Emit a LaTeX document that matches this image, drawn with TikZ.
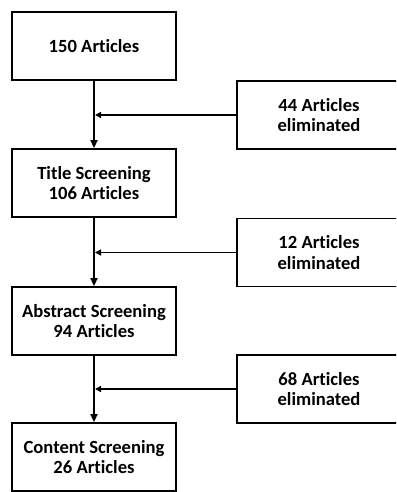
\documentclass[tikz,border=0pt]{standalone}
\usepackage{fontspec}
\setmainfont{Carlito}[Ligatures=NoCommon]
\usetikzlibrary{arrows.meta}
\begin{document}
\begin{tikzpicture}[x=1pt, y=-1pt,
  bx/.style={draw=black, line width=1.9pt, fill=white, minimum width=164pt, minimum height=68pt, inner sep=0pt, align=center, font=\fontsize{18.6}{20.5}\selectfont\bfseries},
  ar/.style={draw=black, line width=1.9pt, -{Triangle[length=8pt, width=7pt]}},
  el/.style={draw=black, line width=1.5pt, shorten >=1pt, -{Triangle[length=6pt, width=6pt]}}]
\clip (0,0) rectangle (396,492);
\node[bx] (b1) at (94,46) {150 Articles};
\node[bx] (b2) at (94,183) {Title Screening\\106 Articles};
\node[bx] (b3) at (94,321) {Abstract Screening\\94 Articles};
\node[bx] (b4) at (94,457) {Content Screening\\26 Articles};
\node[bx] (e1) at (319,115) {44 Articles\\eliminated};
\node[bx] (e2) at (319,252.5) {12 Articles\\eliminated};
\node[bx] (e3) at (319,389) {68 Articles\\eliminated};
\draw[ar] (b1)--(b2); \draw[ar] (b2)--(b3); \draw[ar] (b3)--(b4);
\draw[el] (e1.west)--(e1.west -| b1.south);
\draw[el] (e2.west)--(e2.west -| b2.south);
\draw[el] (e3.west)--(e3.west -| b3.south);
\end{tikzpicture}
\end{document}
